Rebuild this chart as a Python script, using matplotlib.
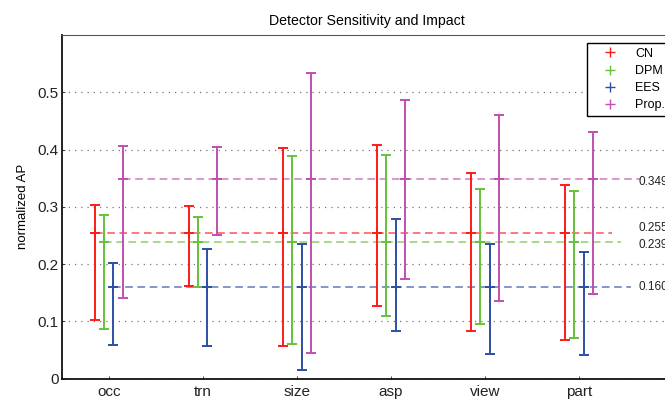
import matplotlib
matplotlib.use("Agg")
import matplotlib.pyplot as plt
from matplotlib.lines import Line2D
import numpy as np

plt.rcParams['font.family'] = ['Liberation Sans', 'DejaVu Sans']

categories = ["occ", "trn", "size", "asp", "view", "part"]
series = ["CN", "DPM", "EES", "Prop."]
colors = ["#ff1a1a", "#66c23a", "#2d4fa5", "#c050b0"]
means = [0.255, 0.239, 0.160, 0.349]
mean_labels = ["0.255", "0.239", "0.160", "0.349"]
label_y = [0.263, 0.233, 0.159, 0.344]

cn_lo = [0.102, 0.162, 0.057, 0.127, 0.083, 0.067]
cn_hi = [0.303, 0.302, 0.403, 0.408, 0.359, 0.338]
dpm_lo = [0.086, 0.160, 0.060, 0.109, 0.095, 0.071]
dpm_hi = [0.286, 0.282, 0.388, 0.391, 0.331, 0.327]
ees_lo = [0.059, 0.057, 0.015, 0.083, 0.043, 0.041]
ees_hi = [0.202, 0.226, 0.235, 0.278, 0.235, 0.221]
prop_lo = [0.140, 0.251, 0.044, 0.174, 0.136, 0.148]
prop_hi = [0.406, 0.405, 0.534, 0.486, 0.461, 0.431]

lows = [cn_lo, dpm_lo, ees_lo, prop_lo]
highs = [cn_hi, dpm_hi, ees_hi, prop_hi]
offsets = [-0.15, -0.05, 0.05, 0.15]

W, H = 665, 399
fig = plt.figure(figsize=(W / 100, H / 100), dpi=100)
ax_left, ax_right, ax_top, ax_bot = 61.7, 673.0, 35.0, 378.5
ax = fig.add_axes([ax_left / W, 1 - ax_bot / H, (ax_right - ax_left) / W, (ax_bot - ax_top) / H])

base = np.arange(1, len(categories) + 1)
for i in range(len(series)):
    x = base + offsets[i]
    m = means[i]
    y = np.full(len(categories), m)
    lo = np.array(lows[i])
    hi = np.array(highs[i])
    ax.errorbar(x, y, yerr=[y - lo, hi - y], fmt='+', color=colors[i],
                ecolor=colors[i], elinewidth=1.4, capsize=3.3, capthick=1.4,
                markersize=7, mew=1.4, zorder=3)
    ax.plot([x[0], x[-1] + 0.5], [m, m], linestyle=(0, (5, 3)), color=colors[i],
            alpha=0.75, lw=1.1, zorder=2)
    ax.text(6.635, label_y[i], mean_labels[i], ha='left', va='center',
            fontsize=8.5, color='#222222')

ax.set_xlim(0.5, 7.0)
ax.set_ylim(0, 0.6)
ax.set_xticks(base)
ax.set_xticklabels(categories, fontsize=11)
yt = [0, 0.1, 0.2, 0.3, 0.4, 0.5]
ax.set_yticks(yt)
ax.set_yticklabels(["0", "0.1", "0.2", "0.3", "0.4", "0.5"], fontsize=11)
ax.tick_params(axis='both', direction='in', length=2, width=0.6, colors='#222222')
ax.tick_params(axis='y', pad=2)
ax.tick_params(axis='x', pad=5)
ax.yaxis.grid(True, linestyle=(0, (1, 4)), color='#777777', lw=0.9)
ax.set_axisbelow(True)

for s in ['left', 'bottom']:
    ax.spines[s].set_linewidth(1.3)
    ax.spines[s].set_color('#111111')
ax.spines['top'].set_linewidth(0.8)
ax.spines['top'].set_color('#555555')

ax.set_ylabel("normalized AP", fontsize=9.5, labelpad=6)
ax.set_title("Detector Sensitivity and Impact", fontsize=10.2, pad=7)

handles = [Line2D([], [], linestyle='none', marker='+', color=c, markersize=6.5, mew=1.0)
           for c in colors]
leg = fig.legend(handles, series, loc='upper left',
                 bbox_to_anchor=(586.7 / W, 1 - 42.7 / H), fontsize=9,
                 frameon=True, fancybox=False, framealpha=1, edgecolor='black',
                 handlelength=3.0, handletextpad=0.5, labelspacing=0.42,
                 borderpad=0.4, borderaxespad=0)
leg.get_frame().set_linewidth(1.0)

fig.savefig("out.png", dpi=100)
